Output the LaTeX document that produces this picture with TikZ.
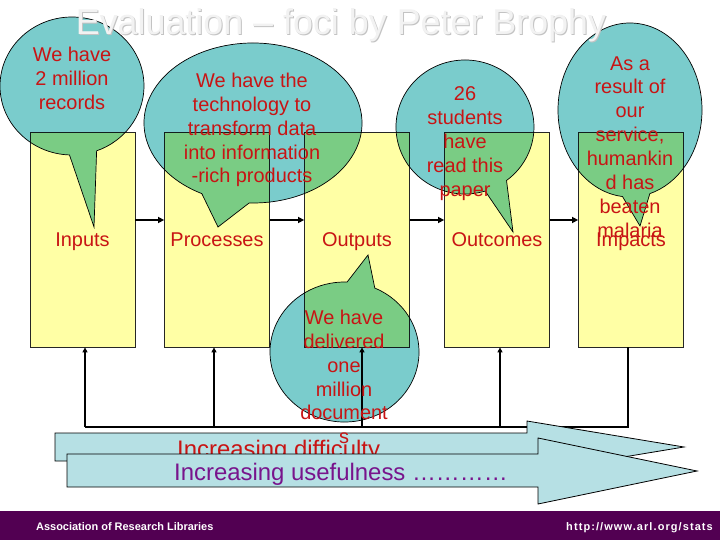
\documentclass[tikz,border=0pt]{standalone}
\usepackage{fontspec}
\setmainfont{Liberation Sans}
\usetikzlibrary{arrows.meta,calc}
\definecolor{boxyellow}{RGB}{255,255,165}
\definecolor{bubbleteal}{RGB}{122,204,204}
\definecolor{txtred}{RGB}{200,20,20}
\definecolor{txtpurple}{RGB}{120,20,140}
\definecolor{arrowblue}{RGB}{182,224,228}
\definecolor{footpurple}{RGB}{82,0,82}
\definecolor{titlegray}{RGB}{242,242,242}
\definecolor{titleshade}{RGB}{195,195,195}
\newcommand\mybubble[8]{%
  \path[bubble] ($(#1,#2)+(#5:#3 and #4)$) -- (#7,#8) -- ($(#1,#2)+(#6:#3 and #4)$)
    arc[start angle=#6, end angle={#5+360}, x radius=#3, y radius=#4] -- cycle;}
\tikzset{
  box/.style={draw=black!85, line width=0.8bp, fill=boxyellow, minimum width=105bp, minimum height=215bp, inner sep=0pt},
  bubble/.style={fill=bubbleteal, draw=black, line width=0.7bp},
  flow/.style={line width=1.6bp, -{Triangle[length=6bp,width=6bp]}},
  fb/.style={line width=1.4bp},
  fbarr/.style={fb, -{Triangle[length=5bp,width=5bp]}},
  bigarrow/.style={fill=arrowblue, draw=black, line width=0.8bp},
  lbl/.style={text=txtred, font=\fontsize{20}{24}\selectfont, anchor=base, inner sep=0pt},
  btxt/.style={text=txtred, font=\fontsize{20}{24}\selectfont, align=center, inner sep=0pt},
}
\begin{document}
\begin{tikzpicture}[x=1bp, y=-1bp]
\useasboundingbox (0,0) rectangle (720,540);
\fill[white] (0,0) rectangle (720,540);
% boxes
\node[box] (inputs) at (82.5,239.5) {};
\node[box] (processes) at (217,239.5) {};
\node[box] (outputs) at (357,239.5) {};
\node[box] (outcomes) at (497,239.5) {};
\node[box] (impacts) at (631,239.5) {};
% flow arrows
\coordinate (row) at (0,220);
\draw[flow] (inputs.east |- row) -- (processes.west |- row);
\draw[flow] (processes.east |- row) -- (outputs.west |- row);
\draw[flow] (outputs.east |- row) -- (outcomes.west |- row);
\draw[flow] (outcomes.east |- row) -- (impacts.west |- row);
% feedback
\coordinate (f1) at (85,427);
\coordinate (f2) at (214,427);
\coordinate (f3) at (362,427);
\coordinate (f4) at (500,427);
\coordinate (f5) at (628,427);
\draw[fb] (f5 |- impacts.south) -- (f5) -- (f1);
\draw[fbarr] (f1) -- (f1 |- inputs.south);
\draw[fbarr] (f2) -- (f2 |- processes.south);
\draw[fbarr] (f3) -- (f3 |- outputs.south);
\draw[fbarr] (f4) -- (f4 |- outcomes.south);
% callouts
\begin{scope}[blend mode=multiply]
\mybubble{72}{86}{72}{69}{70}{92}{94}{227}
\mybubble{253}{123}{109}{80}{92}{118}{218}{227}
\mybubble{465}{127}{69}{67}{53}{73}{513}{232}
\mybubble{630}{110}{72}{87}{74}{96}{640}{226}
\mybubble{344.5}{352}{74.5}{70}{-88}{-66}{368}{255}
\end{scope}
% big arrows
\draw[bigarrow] (55,433) -- (527,433) -- (527,421) -- (684,447) -- (527,473) -- (527,461) -- (55,461) -- cycle;
\node[anchor=base west, inner sep=0pt, text=txtred, font=\fontsize{24}{28}\selectfont] (diff) at (177,457) {Increasing difficulty};
\draw[bigarrow] (67,454) -- (538,454) -- (538,438) -- (697,471) -- (538,504) -- (538,487) -- (67,487) -- cycle;
\node[anchor=base west, inner sep=0pt, text=txtpurple, font=\fontsize{24}{28}\selectfont] (useful) at (174,480) {Increasing usefulness …………};
% box labels
\node[lbl] at (inputs.center |- 0,247) {Inputs};
\node[lbl] at (processes.center |- 0,247) {Processes};
\node[lbl] at (outputs.center |- 0,247) {Outputs};
\node[lbl] at (outcomes.center |- 0,247) {Outcomes};
\node[lbl] at (impacts.center |- 0,247) {Impacts};
% callout texts
\node[btxt] (t1) at (72,78) {We have\\2 million\\records};
\node[btxt] (t2) at (252,130) {We have the\\technology to\\transform data\\into information\\-rich products};
\node[btxt] (t3) at (465,143.5) {26\\students\\have\\read this\\paper};
\node[btxt] (t4) at (630,147) {As a\\result of\\our\\service,\\humankin\\d has\\beaten\\malaria};
\node[btxt] (t5) at (344,377) {We have\\delivered\\one\\million\\document\\s};
% title
\node[anchor=base, inner sep=0pt, text=titleshade, font=\fontsize{36}{40}\selectfont] at (342,36) {Evaluation – foci by Peter Brophy};
\node[anchor=base, inner sep=0pt, text=titlegray, font=\fontsize{36}{40}\selectfont] (title) at (341,35) {Evaluation – foci by Peter Brophy};
% footer
\fill[footpurple] (0,511) rectangle (720,540);
\node[anchor=base west, inner sep=0pt, text=white, font=\bfseries\fontsize{11}{13}\selectfont] (arl) at (36,530) {Association of Research Libraries};
\node[anchor=base east, inner sep=0pt, text=white, font=\bfseries\fontsize{11}{13}\selectfont\addfontfeature{LetterSpace=10}] (url) at (713,530) {http://www.arl.org/stats};
\end{tikzpicture}
\end{document}
